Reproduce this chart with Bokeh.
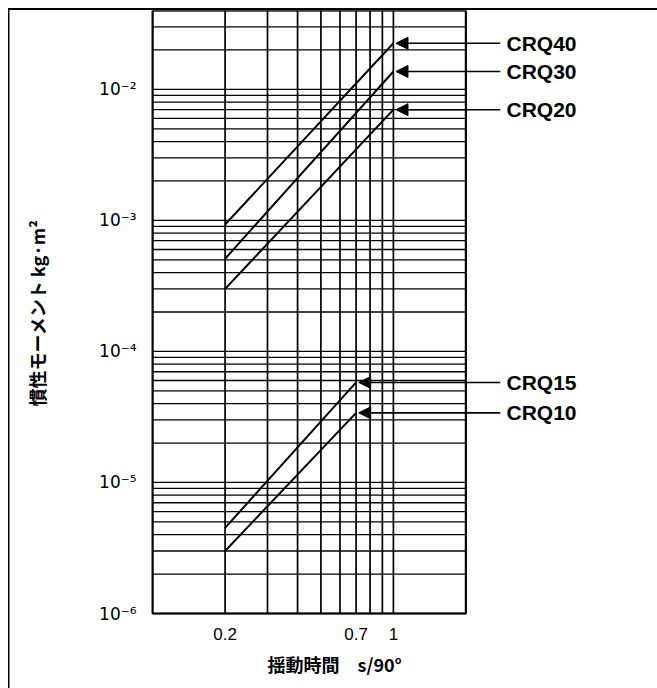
from bokeh.plotting import figure
from bokeh.models import Range1d, FixedTicker, Arrow, NormalHead, Title
from bokeh.core.properties import value
from bokeh.embed import file_html
from bokeh.resources import INLINE

# ---- data ----
series_names = ["CRQ40", "CRQ30", "CRQ20", "CRQ15", "CRQ10"]
t_long = [0.2, 1.0]
t_short = [0.2, 0.7]
crq40 = [9.3e-4, 2.25e-2]
crq30 = [5.1e-4, 1.37e-2]
crq20 = [3.0e-4, 7.0e-3]
crq15 = [4.5e-6, 5.8e-5]
crq10 = [3.0e-6, 3.4e-5]

x_box = [0.1, 2.0]            # chart box (x)
y_box = [1e-6, 0.04]          # chart box (y)
x_tick_values = [0.2, 0.7, 1.0]
x_tick_labels = ["0.2", "0.7", "1"]
x_grid_values = [0.2, 0.3, 0.4, 0.5, 0.6, 0.7, 0.8, 0.9, 1.0]
y_tick_values = [1e-6, 1e-5, 1e-4, 1e-3, 1e-2]
y_tick_labels = ["10⁻⁶", "10⁻⁵", "10⁻⁴", "10⁻³", "10⁻²"]
y_grid_values = [m * d for d in [1e-6, 1e-5, 1e-4, 1e-3, 1e-2]
                 for m in range(1, 10) if m * d <= 0.04 + 1e-12]

y_title = "慣性モーメント kg·m²"
x_title = "揺動時間\u3000s/90°"

FONT = "Liberation Sans"
JP = "Noto Sans CJK JP"

p = figure(width=657, height=688, x_axis_type="log", y_axis_type="log",
           x_range=Range1d(0.098, 12.5), y_range=Range1d(0.9655e-6, 0.04),
           output_backend="svg", toolbar_location=None,
           min_border_left=150, min_border_right=0,
           min_border_top=10, min_border_bottom=73)
p.background_fill_color = "white"
p.border_fill_color = None
p.outline_line_color = None
p.xgrid.visible = False
p.ygrid.visible = False
# page frame (left and top rule of the printed page)
p.styles = {
    "background-color": "white",
    "background-image": "linear-gradient(#000,#000), linear-gradient(#000,#000)",
    "background-size": "1.5px 100%, 100% 2px",
    "background-position": "8px 8px, 8px 8px",
    "background-repeat": "no-repeat",
}

# grid lines of the chart box
p.segment(x0=[x_box[0]] * len(y_grid_values), x1=[x_box[1]] * len(y_grid_values),
          y0=y_grid_values, y1=y_grid_values, line_color="black", line_width=1.3)
p.segment(x0=x_grid_values, x1=x_grid_values,
          y0=[y_box[0]] * len(x_grid_values), y1=[y_box[1]] * len(x_grid_values),
          line_color="black", line_width=1.7)
p.quad(left=[x_box[0]], right=[x_box[1]], bottom=[y_box[0]], top=[y_box[1]],
       fill_color=None, line_color="black", line_width=2.2)

# axes
p.xaxis.ticker = FixedTicker(ticks=x_tick_values)
p.xaxis.major_label_overrides = dict(zip(x_tick_values, x_tick_labels))
p.yaxis.ticker = FixedTicker(ticks=y_tick_values)
p.yaxis.major_label_overrides = dict(zip(y_tick_values, y_tick_labels))
for ax in (p.xaxis, p.yaxis):
    ax.axis_line_color = None
    ax.major_tick_line_color = None
    ax.minor_tick_line_color = None
    ax.major_label_text_color = "black"
    ax.major_label_text_font_size = "17px"
p.xaxis.major_label_text_font = FONT
p.yaxis.major_label_text_font = "DejaVu Sans"
p.yaxis.major_label_text_font_size = "17px"
p.xaxis.major_label_standoff = 6
p.yaxis.major_label_standoff = 8
p.yaxis.axis_label = y_title
p.yaxis.axis_label_standoff = 46
p.yaxis.axis_label_text_font = JP
p.yaxis.axis_label_text_font_style = "bold"
p.yaxis.axis_label_text_font_size = "18px"
p.yaxis.axis_label_text_color = "black"

p.add_layout(Title(text=x_title, align="left", offset=117, text_font=JP,
                   text_font_size="18px", text_font_style="bold",
                   text_color="black", standoff=13), "below")

# curves, arrows and series labels
xs_all = [t_long, t_long, t_long, t_short, t_short]
ys_all = [crq40, crq30, crq20, crq15, crq10]
end_vals = []
for name, xs, ys in zip(series_names, xs_all, ys_all):
    p.line(xs, ys, line_color="black", line_width=2)
    end_vals.append(ys[-1])
    p.add_layout(Arrow(end=NormalHead(size=12, fill_color="black",
                                      line_color="black", line_width=1),
                       x_start=2.78, y_start=ys[-1], x_end=xs[-1] * 1.025,
                       y_end=ys[-1], line_color="black", line_width=1.6))

p.text(x=[2.95] * len(series_names), y=end_vals, text=series_names,
       text_font=value(FONT), text_font_style="bold", text_font_size="21px",
       text_baseline="middle", text_align="left", text_color="black")

open("out.html", "w").write(file_html(p, INLINE))
